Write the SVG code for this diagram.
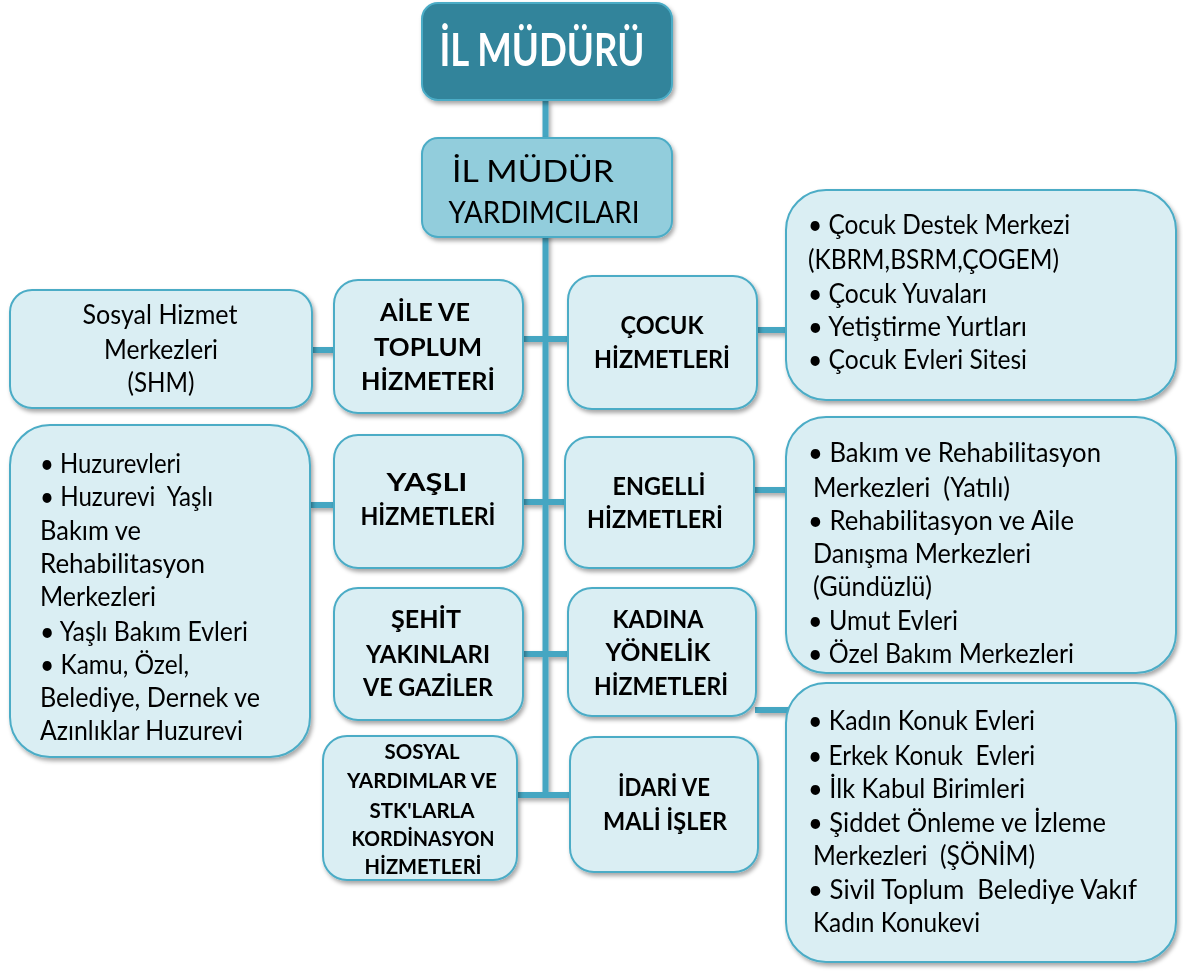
<svg xmlns="http://www.w3.org/2000/svg" width="1183" height="971" viewBox="0 0 1183 971">
<style>
.box{fill:#DAEEF3;stroke:#4BACC6;stroke-width:2}
.top{fill:#31849B;stroke:#4BACC6;stroke-width:2}
.sub{fill:#92CDDC;stroke:#4BACC6;stroke-width:2}
.con{stroke:#45A6C2;stroke-width:6;fill:none;stroke-linecap:butt}
text{font-family:Lato,"Liberation Sans",sans-serif;fill:#000;white-space:pre}
.b{font-weight:bold;font-size:25px;text-anchor:middle}
.s{font-weight:bold;font-size:21px;text-anchor:middle}
.r{font-size:26px}
.rc{font-size:26px;text-anchor:middle}
</style>
<defs>
<filter id="sh" x="-10%" y="-10%" width="130%" height="130%">
<feDropShadow dx="2" dy="3" stdDeviation="2" flood-color="#000" flood-opacity="0.35"/>
</filter>
</defs>
<g id="connectors" filter="url(#sh)">
<line class="con" x1="545.5" y1="100" x2="545.5" y2="798"/>
<line class="con" x1="523" y1="339" x2="568" y2="339"/>
<line class="con" x1="523" y1="502" x2="566" y2="502"/>
<line class="con" x1="523" y1="654" x2="568" y2="654"/>
<line class="con" x1="517" y1="795" x2="570" y2="795"/>
<line class="con" x1="312" y1="350" x2="334" y2="350"/>
<line class="con" x1="310" y1="505" x2="334" y2="505"/>
<line class="con" x1="757" y1="330" x2="786" y2="330"/>
<line class="con" x1="754" y1="490" x2="786" y2="490"/>
<line class="con" x1="755" y1="710" x2="792" y2="710"/>
</g>
<g id="il-muduru" filter="url(#sh)">
<rect class="top" x="422" y="3" width="250" height="97" rx="16"/>
<text x="542" y="66" font-size="45" font-weight="bold" text-anchor="middle" style="fill:#fff" textLength="205" lengthAdjust="spacingAndGlyphs">İL MÜDÜRÜ</text>
</g>
<g id="il-mudur-yardimcilari" filter="url(#sh)">
<rect class="sub" x="422" y="138" width="250" height="99" rx="16"/>
<text x="533" y="182" font-size="31" text-anchor="middle" textLength="162" lengthAdjust="spacingAndGlyphs">İL MÜDÜR</text>
<text x="544" y="223" font-size="31" text-anchor="middle" textLength="191" lengthAdjust="spacingAndGlyphs">YARDIMCILARI</text>
</g>
<g id="shm" filter="url(#sh)">
<rect class="box" x="10" y="290" width="302" height="118" rx="22"/>
<text class="rc" x="160" y="324" textLength="155" lengthAdjust="spacingAndGlyphs">Sosyal Hizmet</text>
<text class="rc" x="161" y="359" textLength="114" lengthAdjust="spacingAndGlyphs">Merkezleri</text>
<text class="rc" x="161" y="392" textLength="67" lengthAdjust="spacingAndGlyphs">(SHM)</text>
</g>
<g id="aile" filter="url(#sh)">
<rect class="box" x="334" y="280" width="189" height="133" rx="24"/>
<text class="b" x="425" y="321" textLength="90" lengthAdjust="spacingAndGlyphs">AİLE VE</text>
<text class="b" x="428" y="356" textLength="108" lengthAdjust="spacingAndGlyphs">TOPLUM</text>
<text class="b" x="428" y="390" textLength="134" lengthAdjust="spacingAndGlyphs">HİZMETERİ</text>
</g>
<g id="cocuk" filter="url(#sh)">
<rect class="box" x="568" y="276" width="189" height="133" rx="24"/>
<text class="b" x="662" y="334" textLength="83" lengthAdjust="spacingAndGlyphs">ÇOCUK</text>
<text class="b" x="662" y="368" textLength="136" lengthAdjust="spacingAndGlyphs">HİZMETLERİ</text>
</g>
<g id="cocuk-list" filter="url(#sh)">
<rect class="box" x="786" y="190" width="390" height="210" rx="40"/>
<text class="r" x="808" y="234" textLength="262" lengthAdjust="spacingAndGlyphs">• Çocuk Destek Merkezi</text>
<text class="r" x="808" y="269" textLength="251" lengthAdjust="spacingAndGlyphs">(KBRM,BSRM,ÇOGEM)</text>
<text class="r" x="808" y="303" textLength="179" lengthAdjust="spacingAndGlyphs">• Çocuk Yuvaları</text>
<text class="r" x="808" y="336" textLength="219" lengthAdjust="spacingAndGlyphs">• Yetiştirme Yurtları</text>
<text class="r" x="808" y="369" textLength="219" lengthAdjust="spacingAndGlyphs">• Çocuk Evleri Sitesi</text>
</g>
<g id="yasli-list" filter="url(#sh)">
<rect class="box" x="10" y="425" width="300" height="332" rx="40"/>
<text class="r" x="40" y="473" textLength="141" lengthAdjust="spacingAndGlyphs">• Huzurevleri</text>
<text class="r" x="40" y="506" textLength="173" lengthAdjust="spacingAndGlyphs">• Huzurevi  Yaşlı</text>
<text class="r" x="40" y="540" textLength="101" lengthAdjust="spacingAndGlyphs">Bakım ve</text>
<text class="r" x="40" y="573" textLength="165" lengthAdjust="spacingAndGlyphs">Rehabilitasyon</text>
<text class="r" x="40" y="606" textLength="116" lengthAdjust="spacingAndGlyphs">Merkezleri</text>
<text class="r" x="40" y="641" textLength="208" lengthAdjust="spacingAndGlyphs">• Yaşlı Bakım Evleri</text>
<text class="r" x="40" y="674" textLength="149" lengthAdjust="spacingAndGlyphs">• Kamu, Özel,</text>
<text class="r" x="40" y="707" textLength="220" lengthAdjust="spacingAndGlyphs">Belediye, Dernek ve</text>
<text class="r" x="40" y="740" textLength="203" lengthAdjust="spacingAndGlyphs">Azınlıklar Huzurevi</text>
</g>
<g id="yasli" filter="url(#sh)">
<rect class="box" x="334" y="435" width="189" height="133" rx="24"/>
<text class="b" x="427" y="491" textLength="81" lengthAdjust="spacingAndGlyphs">YAŞLI</text>
<text class="b" x="428" y="525" textLength="135" lengthAdjust="spacingAndGlyphs">HİZMETLERİ</text>
</g>
<g id="engelli" filter="url(#sh)">
<rect class="box" x="565" y="437" width="189" height="131" rx="24"/>
<text class="b" x="659" y="495" textLength="93" lengthAdjust="spacingAndGlyphs">ENGELLİ</text>
<text class="b" x="655" y="528" textLength="136" lengthAdjust="spacingAndGlyphs">HİZMETLERİ</text>
</g>
<g id="engelli-list" filter="url(#sh)">
<rect class="box" x="786" y="417" width="390" height="256" rx="40"/>
<text class="r" x="808" y="462" textLength="293" lengthAdjust="spacingAndGlyphs">• Bakım ve Rehabilitasyon</text>
<text class="r" x="813" y="497" textLength="197" lengthAdjust="spacingAndGlyphs">Merkezleri  (Yatılı)</text>
<text class="r" x="808" y="530" textLength="266" lengthAdjust="spacingAndGlyphs">• Rehabilitasyon ve Aile</text>
<text class="r" x="813" y="563" textLength="218" lengthAdjust="spacingAndGlyphs">Danışma Merkezleri</text>
<text class="r" x="813" y="596" textLength="119" lengthAdjust="spacingAndGlyphs">(Gündüzlü)</text>
<text class="r" x="808" y="630" textLength="150" lengthAdjust="spacingAndGlyphs">• Umut Evleri</text>
<text class="r" x="808" y="663" textLength="266" lengthAdjust="spacingAndGlyphs">• Özel Bakım Merkezleri</text>
</g>
<g id="sehit" filter="url(#sh)">
<rect class="box" x="334" y="588" width="189" height="132" rx="24"/>
<text class="b" x="426" y="628" textLength="70" lengthAdjust="spacingAndGlyphs">ŞEHİT</text>
<text class="b" x="428" y="663" textLength="124" lengthAdjust="spacingAndGlyphs">YAKINLARI</text>
<text class="b" x="428" y="696" textLength="130" lengthAdjust="spacingAndGlyphs">VE GAZİLER</text>
</g>
<g id="kadina" filter="url(#sh)">
<rect class="box" x="568" y="588" width="188" height="128" rx="24"/>
<text class="b" x="658" y="628" textLength="91" lengthAdjust="spacingAndGlyphs">KADINA</text>
<text class="b" x="658" y="661" textLength="105" lengthAdjust="spacingAndGlyphs">YÖNELİK</text>
<text class="b" x="661" y="695" textLength="134" lengthAdjust="spacingAndGlyphs">HİZMETLERİ</text>
</g>
<g id="sosyal" filter="url(#sh)">
<rect class="box" x="323" y="736" width="194" height="144" rx="24"/>
<text class="s" x="422" y="759" textLength="75" lengthAdjust="spacingAndGlyphs">SOSYAL</text>
<text class="s" x="422" y="788" textLength="150" lengthAdjust="spacingAndGlyphs">YARDIMLAR VE</text>
<text class="s" x="422" y="818" textLength="105" lengthAdjust="spacingAndGlyphs">STK'LARLA</text>
<text class="s" x="423" y="846" textLength="143" lengthAdjust="spacingAndGlyphs">KORDİNASYON</text>
<text class="s" x="423" y="874" textLength="117" lengthAdjust="spacingAndGlyphs">HİZMETLERİ</text>
</g>
<g id="idari" filter="url(#sh)">
<rect class="box" x="570" y="737" width="188" height="135" rx="24"/>
<text class="b" x="664" y="796" textLength="92" lengthAdjust="spacingAndGlyphs">İDARİ VE</text>
<text class="b" x="665" y="830" textLength="124" lengthAdjust="spacingAndGlyphs">MALİ İŞLER</text>
</g>
<g id="kadina-list" filter="url(#sh)">
<rect class="box" x="786" y="683" width="390" height="279" rx="40"/>
<text class="r" x="808" y="730" textLength="227" lengthAdjust="spacingAndGlyphs">• Kadın Konuk Evleri</text>
<text class="r" x="808" y="765" textLength="227" lengthAdjust="spacingAndGlyphs">• Erkek Konuk  Evleri</text>
<text class="r" x="808" y="798" textLength="217" lengthAdjust="spacingAndGlyphs">• İlk Kabul Birimleri</text>
<text class="r" x="808" y="832" textLength="298" lengthAdjust="spacingAndGlyphs">• Şiddet Önleme ve İzleme</text>
<text class="r" x="813" y="865" textLength="222" lengthAdjust="spacingAndGlyphs">Merkezleri  (ŞÖNİM)</text>
<text class="r" x="808" y="899" textLength="329" lengthAdjust="spacingAndGlyphs">• Sivil Toplum  Belediye Vakıf</text>
<text class="r" x="813" y="932" textLength="167" lengthAdjust="spacingAndGlyphs">Kadın Konukevi</text>
</g>
</svg>
